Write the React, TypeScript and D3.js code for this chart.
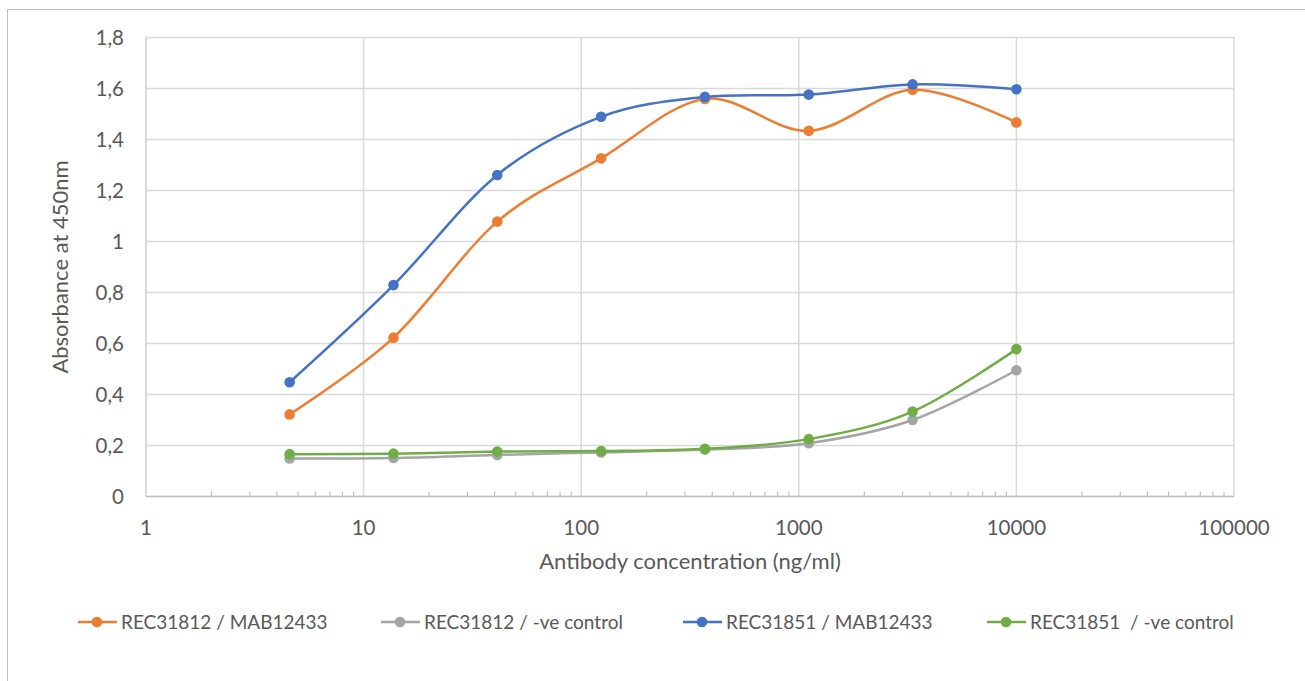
import React from "react";
import * as d3 from "d3";

const concentrations = [4.572, 13.717, 41.152, 123.457, 370.37, 1111.11, 3333.33, 10000];
const seriesNames = [
  "REC31812 / MAB12433",
  "REC31812 / -ve control",
  "REC31851 / MAB12433",
  "REC31851  / -ve control",
];
const rec31812Mab = [0.322, 0.623, 1.078, 1.326, 1.559, 1.434, 1.595, 1.467];
const rec31812Neg = [0.149, 0.151, 0.163, 0.173, 0.184, 0.209, 0.3, 0.495];
const rec31851Mab = [0.448, 0.829, 1.261, 1.489, 1.567, 1.576, 1.616, 1.597];
const rec31851Neg = [0.166, 0.168, 0.176, 0.178, 0.187, 0.225, 0.333, 0.578];
const seriesColors = ["#ED7D31", "#A5A5A5", "#4472C4", "#70AD47"];
const yTicks = [0, 0.2, 0.4, 0.6, 0.8, 1, 1.2, 1.4, 1.6, 1.8];
const xTicks = [1, 10, 100, 1000, 10000, 100000];

const FONT = "Lato, 'Open Sans', sans-serif";
const TXT = "#595959";

export default function App() {
  const W = 1305;
  const H = 681;
  const left = 146, right = 1234, top = 37.5, bottom = 496.5;
  const x = d3.scaleLog().domain([1, 100000]).range([left, right]);
  const y = d3.scaleLinear().domain([0, 1.8]).range([bottom, top]);
  const allSeries = [rec31812Mab, rec31812Neg, rec31851Mab, rec31851Neg];
  const line = d3
    .line<[number, number]>()
    .x((d) => x(d[0]))
    .y((d) => y(d[1]))
    .curve(d3.curveCardinal.tension(0));

  const minor: number[] = [];
  for (let e = 0; e < 5; e++) {
    for (let m = 2; m <= 9; m++) minor.push(m * Math.pow(10, e));
  }
  const legendX = [78, 381, 683, 987];
  const legendY = 622;
  const fmt = (v: number) => (v === 0 ? "0" : v % 1 === 0 ? String(v) : v.toFixed(1).replace(".", ","));

  return (
    <svg width={W} height={H} style={{ position: "absolute", left: 0, top: 0 }}>
      <rect x={0} y={0} width={W} height={H} fill="#fff" />
      <rect x={7.5} y={9.5} width={W + 20} height={H + 20} fill="none" stroke="#BFBFBF" strokeWidth={1} />
      {yTicks.map((t) => (
        <line key={"gy" + t} x1={left} x2={right} y1={y(t)} y2={y(t)} stroke="#D9D9D9" strokeWidth={1.5} />
      ))}
      {xTicks.map((t) => (
        <line key={"gx" + t} x1={x(t)} x2={x(t)} y1={top} y2={bottom} stroke="#D9D9D9" strokeWidth={1.5} />
      ))}
      <line x1={left} x2={left} y1={top} y2={bottom} stroke="#D9D9D9" strokeWidth={1.5} />
      <line x1={left} x2={right} y1={bottom} y2={bottom} stroke="#BFBFBF" strokeWidth={1.5} />
      {minor.map((t) => (
        <line key={"mt" + t} x1={x(t)} x2={x(t)} y1={bottom} y2={bottom - 5} stroke="#BFBFBF" strokeWidth={1.2} />
      ))}
      {yTicks.map((t) => (
        <text key={"ly" + t} x={124} y={y(t)} dy="0.36em" textAnchor="end" fontFamily={FONT} fontSize={20.5} fill={TXT}>
          {fmt(t)}
        </text>
      ))}
      {xTicks.map((t) => (
        <text key={"lx" + t} x={x(t)} y={535} textAnchor="middle" fontFamily={FONT} fontSize={20.5} fill={TXT}>
          {String(t)}
        </text>
      ))}
      <text x={(left + right) / 2} y={569} textAnchor="middle" fontFamily={FONT} fontSize={22} fill={TXT}>
        Antibody concentration (ng/ml)
      </text>
      <text
        transform={`translate(60,${(top + bottom) / 2}) rotate(-90)`}
        dy="0.35em"
        textAnchor="middle"
        fontFamily={FONT}
        fontSize={22}
        fill={TXT}
      >
        Absorbance at 450nm
      </text>
      {allSeries.map((s, i) => {
        const pts = concentrations.map((c, j) => [c, s[j]] as [number, number]);
        return (
          <g key={"s" + i}>
            <path d={line(pts) || ""} fill="none" stroke={seriesColors[i]} strokeWidth={2.5} strokeLinejoin="round" />
            {pts.map((p, j) => (
              <circle key={j} cx={x(p[0])} cy={y(p[1])} r={5.3} fill={seriesColors[i]} />
            ))}
          </g>
        );
      })}
      {seriesNames.map((n, i) => (
        <g key={"lg" + i}>
          <line x1={legendX[i]} x2={legendX[i] + 39} y1={legendY} y2={legendY} stroke={seriesColors[i]} strokeWidth={2.5} />
          <circle cx={legendX[i] + 19} cy={legendY} r={5.3} fill={seriesColors[i]} />
          <text x={legendX[i] + 43} y={legendY} dy="0.36em" fontFamily={FONT} fontSize={19} fill={TXT} xmlSpace="preserve">
            {n}
          </text>
        </g>
      ))}
    </svg>
  );
}
